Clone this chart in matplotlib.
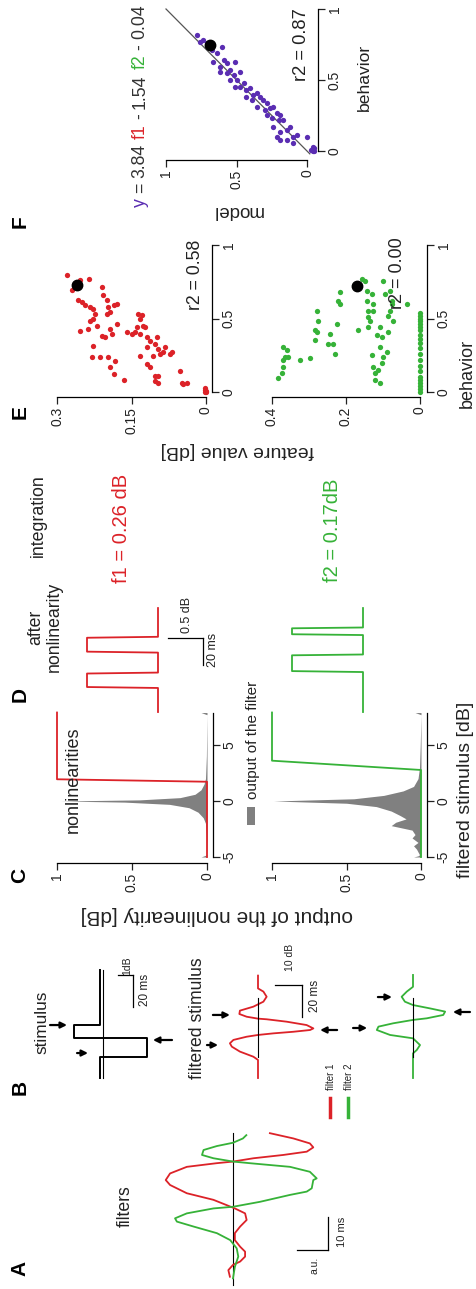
import matplotlib
matplotlib.use('Agg')
import matplotlib.pyplot as plt
from matplotlib.lines import Line2D
from matplotlib.patches import Rectangle

plt.rcParams['font.family'] = ['Liberation Sans', 'DejaVu Sans']

W, H = 476, 1289
fig = plt.figure(figsize=(W / 100, H / 100), dpi=100)

RED = '#dc2228'
GREEN = '#36b238'
PURPLE = '#5a2db2'
GREY = '#808080'

# ---------------- data ----------------
# Panel A: filters (time ms, value a.u.)
filt1_t = [1.9, 3.9, 5.5, 6.5, 8.0, 9.5, 11.0, 13.0, 15.1, 17.1, 19.1, 21.1, 22.6, 25.2, 27.2,
           29.7, 31.2, 33.2, 35.2, 36.3, 36.8, 37.8, 38.8, 39.8, 41.1, 42.3, 43.8, 45.4]
filt1_v = [0.1, 0.15, 0.0, -0.23, -0.39, -0.39, -0.23, -0.06, -0.06, -0.23, -0.44, -0.39, -0.06, 0.63, 1.49,
           2.03, 2.17, 2.03, 1.49, 0.53, 0.0, -0.66, -1.62, -2.38, -2.59, -2.48, -1.95, -1.19]
filt2_t = [1.4, 4.9, 8.0, 10.5, 13.0, 15.1, 17.1, 18.6, 19.6, 21.1, 22.6, 23.1, 24.6, 26.7, 27.7,
           28.7, 31.2, 31.7, 33.7, 35.2, 36.3, 36.8, 37.8, 38.8, 40.3, 41.5, 42.5, 43.8, 44.8]
filt2_v = [0.0, -0.06, -0.17, -0.12, 0.09, 0.52, 1.27, 1.81, 1.87, 1.49, 0.63, 0.0, -0.87, -1.84, -2.38,
           -2.54, -2.59, -2.70, -2.48, -1.84, -0.55, 0.0, 0.63, 1.0, 0.95, 0.52, 0.0, -0.32, -0.43]
filt_zero_t = [-0.5, 45.5]

# Panel B: stimulus (time ms, dB)
stim_t = [0.0, 13.1, 13.1, 25.0, 25.0, 33.1, 33.1, 67.5]
stim_v = [0.2, 0.2, -2.93, -2.93, 1.93, 1.93, 0.2, 0.2]
stim_zero_t = [0.0, 67.5]
# filtered stimulus (time ms, dB)
fs1_t = [0.0, 11.3, 13.3, 16.5, 19.6, 21.7, 23.8, 25.8, 26.9, 27.9, 28.9, 30.0, 31.0, 33.1, 35.2,
         36.7, 37.1, 38.3, 40.0, 42.1, 44.6, 47.7, 50.8, 54.0, 56.0, 64.0]
fs1_v = [0.0, 0.0, 1.7, 6.7, 9.7, 10.4, 9.1, 4.2, 0.0, -5.7, -13.1, -19.3, -20.5, -18.0, -10.6,
         -3.2, 0.0, 4.2, 6.9, 6.7, 1.7, -2.0, -3.2, -2.0, 0.0, 0.0]
fs2_t = [0.0, 15.4, 17.5, 20.6, 24.8, 26.9, 30.0, 32.1, 34.2, 36.3, 37.3, 39.4, 41.5, 43.5, 45.6,
         47.7, 50.8, 54.0, 57.0, 64.4]
fs2_v = [0.0, 0.0, -1.4, -2.6, 0.0, 8.5, 13.4, 12.8, 7.3, 0.0, -5.1, -11.2, -11.9, -6.3, 0.0,
         3.0, 4.2, 2.3, 0.0, 0.0]
fs_zero_t = [13.0, 50.0]
# arrows: (time, tip value, tail value)
stim_arrows = [(15.6, 1.0, 1.73), (33.1, 2.4, 3.53), (23.75, -3.33, -4.6)]
fs1_arrows = [(20.6, 14.8, 18.9), (39.4, 10.4, 16.7), (30.0, -23.0, -29.3)]
fs2_arrows = [(31.25, 17.0, 22.2), (50.6, 7.8, 13.0), (41.25, -14.8, -21.1)]

# Panel C: nonlinearities (filtered stimulus dB -> output)
nl1_x = [-5.0, 1.72, 1.94, 7.9]
nl1_y = [0.0, 0.0, 1.0, 1.0]
nl2_x = [-5.0, 2.77, 3.6, 7.9]
nl2_y = [0.0, 0.0, 1.0, 1.0]
hist1_x = [-5.0, -4.9, -4.8, -3.0, -2.0, -1.5, -1.0, -0.6, -0.3, -0.1, 0.0, 0.1, 0.3, 0.6, 1.0, 1.5, 2.0, 4.0, 7.7, 7.8, 7.9]
hist1_y = [0.04, 0.02, 0.0, 0.004, 0.01, 0.025, 0.06, 0.12, 0.25, 0.55, 0.98, 0.45, 0.18, 0.08, 0.04, 0.02, 0.01, 0.004, 0.0, 0.02, 0.04]
hist2_x = [-5.0, -4.9, -4.8, -4.3, -4.0, -3.7, -3.3, -3.0, -2.6, -2.2, -1.9, -1.6, -1.3, -0.9, -0.5, -0.2,
           0.0, 0.2, 0.5, 0.9, 1.3, 2.0, 3.0, 5.0, 7.7, 7.8, 7.9]
hist2_y = [0.05, 0.02, 0.01, 0.03, 0.05, 0.02, 0.06, 0.04, 0.06, 0.2, 0.17, 0.1, 0.14, 0.2, 0.3, 0.5,
           0.99, 0.45, 0.25, 0.12, 0.05, 0.02, 0.01, 0.005, 0.0, 0.02, 0.04]

# Panel D: after nonlinearity (time ms, output)
an1_t = [0.0, 17.8, 18.5, 28.5, 29.2, 44.0, 44.7, 55.0, 55.7, 77.0]
an1_v = [0, 0, 1, 1, 0, 0, 1, 1, 0, 0]
an2_t = [0.0, 29.6, 30.3, 42.0, 42.6, 57.0, 57.6, 62.0, 62.6, 77.0]
an2_v = [0, 0, 1, 1, 0, 0, 1, 1, 0, 0]

# Panel E: feature values vs behavior
e1_feat = [0.280, 0.270, 0.254, 0.235, 0.257, 0.250, 0.243, 0.233, 0.227, 0.223, 0.227, 0.210, 0.207,
           0.200, 0.197, 0.193, 0.186, 0.180, 0.200, 0.254, 0.237, 0.233, 0.220, 0.210, 0.203, 0.193,
           0.190, 0.180, 0.227, 0.213, 0.197, 0.183, 0.193, 0.186, 0.166, 0.230, 0.160, 0.150, 0.143,
           0.139, 0.133, 0.136, 0.129, 0.126, 0.123, 0.133, 0.119, 0.119, 0.113, 0.103, 0.099, 0.096,
           0.106, 0.093, 0.086, 0.082, 0.072, 0.133, 0.119, 0.113, 0.103, 0.103, 0.096, 0.096, 0.069,
           0.052, 0.049, 0.039, 0.046, 0.002, 0.002, 0.0, 0.003, 0.001]
e1_beh = [0.795, 0.692, 0.760, 0.767, 0.623, 0.612, 0.589, 0.578, 0.566, 0.532, 0.498, 0.714, 0.658,
          0.623, 0.578, 0.543, 0.589, 0.600, 0.532, 0.418, 0.429, 0.486, 0.452, 0.384, 0.372, 0.429,
          0.395, 0.463, 0.315, 0.235, 0.235, 0.212, 0.167, 0.121, 0.085, 0.235, 0.406, 0.395, 0.406,
          0.441, 0.498, 0.532, 0.521, 0.452, 0.441, 0.395, 0.372, 0.304, 0.349, 0.326, 0.372, 0.292,
          0.247, 0.258, 0.269, 0.304, 0.258, 0.247, 0.190, 0.167, 0.110, 0.075, 0.064, 0.110, 0.269,
          0.144, 0.064, 0.064, 0.053, 0.030, 0.0, 0.0, 0.015, 0.01]
e1_black = (0.26, 0.73)

e2_feat = [0.383, 0.374, 0.369, 0.371, 0.365, 0.360, 0.356, 0.369, 0.324, 0.297, 0.284, 0.284, 0.279,
           0.275, 0.279, 0.243, 0.248, 0.234, 0.230, 0.225, 0.216, 0.221, 0.216, 0.167, 0.167, 0.158,
           0.149, 0.144, 0.144, 0.140, 0.140, 0.135, 0.140, 0.131, 0.126, 0.126, 0.117, 0.131, 0.126,
           0.122, 0.113, 0.108, 0.122, 0.104, 0.099, 0.108, 0.090, 0.086, 0.086, 0.081, 0.077, 0.081,
           0.099, 0.077, 0.072, 0.108, 0.104, 0.095, 0.036,
           0, 0, 0, 0, 0, 0, 0, 0, 0, 0, 0, 0, 0, 0, 0, 0, 0, 0, 0, 0, 0]
e2_beh = [0.093, 0.126, 0.171, 0.216, 0.239, 0.284, 0.239, 0.306, 0.216, 0.228, 0.419, 0.351, 0.554,
          0.486, 0.408, 0.396, 0.329, 0.329, 0.261, 0.464, 0.599, 0.622, 0.678, 0.419, 0.723, 0.768,
          0.757, 0.689, 0.622, 0.554, 0.509, 0.486, 0.441, 0.667, 0.599, 0.554, 0.385, 0.250, 0.171,
          0.126, 0.149, 0.059, 0.081, 0.194, 0.239, 0.306, 0.273, 0.408, 0.520, 0.554, 0.622, 0.689,
          0.757, 0.599, 0.486, 0.441, 0.374, 0.667, 0.599,
          0.0, 0.02, 0.04, 0.06, 0.08, 0.10, 0.14, 0.18, 0.22, 0.26, 0.30, 0.33, 0.36, 0.39, 0.42,
          0.44, 0.46, 0.48, 0.50, 0.52, 0.54]
e2_black = (0.17, 0.72)

# Panel F: model vs behavior
f_model = [0.78, 0.76, 0.735, 0.71, 0.675, 0.64, 0.605, 0.665, 0.62, 0.59, 0.57, 0.545, 0.51, 0.62,
           0.57, 0.52, 0.50, 0.475, 0.545, 0.51, 0.475, 0.45, 0.43, 0.405, 0.38, 0.355, 0.335, 0.43,
           0.39, 0.31, 0.285, 0.355, 0.30, 0.26, 0.24, 0.215, 0.19, 0.285, 0.25, 0.20, 0.17, 0.24,
           0.19, 0.145, 0.12, 0.215, 0.19, 0.145, 0.10, 0.07, 0.10, 0.0,
           -0.04, -0.05, -0.03, -0.04, -0.05]
f_beh = [0.817, 0.770, 0.782, 0.758, 0.711, 0.688, 0.735, 0.629, 0.594, 0.641, 0.618, 0.570, 0.629,
         0.558, 0.547, 0.535, 0.5, 0.558, 0.5, 0.453, 0.453, 0.477, 0.430, 0.442, 0.394, 0.406, 0.382,
         0.382, 0.359, 0.359, 0.336, 0.312, 0.289, 0.301, 0.312, 0.265, 0.254, 0.254, 0.230, 0.218,
         0.218, 0.171, 0.136, 0.148, 0.171, 0.101, 0.077, 0.077, 0.101, 0.113, 0.054, 0.101,
         0.0, 0.02, 0.01, 0.03, 0.0]
f_black = (0.69, 0.746)
f_fit_model = [-0.02, 1.0]
f_fit_beh = [-0.02, 1.0]


# ---------------- helpers ----------------
def px_axes(box, xa, ya):
    l, r, t, b = box
    ax = fig.add_axes([l / W, 1 - b / H, (r - l) / W, (b - t) / H])
    (p1, v1), (p2, v2) = xa
    fx = lambda p: v1 + (p - p1) * (v2 - v1) / (p2 - p1)
    ax.set_xlim(fx(l), fx(r))
    (q1, w1), (q2, w2) = ya
    fy = lambda q: w1 + (q - q1) * (w2 - w1) / (q2 - q1)
    ax.set_ylim(fy(b), fy(t))
    ax.patch.set_alpha(0)
    return ax


def style(ax, xt, xl, yt, yl, ybounds, lsize=10):
    ax.spines['top'].set_visible(False)
    ax.spines['left'].set_visible(False)
    ax.spines['bottom'].set_bounds(min(xt), max(xt))
    ax.spines['right'].set_bounds(*ybounds)
    for s in ('bottom', 'right'):
        ax.spines[s].set_linewidth(0.9)
    ax.yaxis.tick_right()
    ax.set_xticks(xt, xl)
    ax.set_yticks(yt, yl)
    ax.tick_params(axis='both', direction='out', length=5, width=0.9, labelsize=lsize,
                   labelrotation=90, pad=2, colors='#222222')
    for lab in ax.get_yticklabels():
        lab.set_va('center')


def T(x, y, s, size=12, rot=90, color='#222222', **kw):
    return fig.text(x / W, 1 - y / H, s, rotation=rot, ha='center', va='center',
                    fontsize=size, color=color, **kw)


def arrows(ax, lst):
    for t, tip, tail in lst:
        ax.annotate('', xy=(tip, t), xytext=(tail, t),
                    arrowprops=dict(arrowstyle='-|>', color='k', lw=1.6, mutation_scale=9,
                                    shrinkA=0, shrinkB=0), annotation_clip=False)


# ---------------- Panel F ----------------
axF = px_axes((158, 318, 0, 160), ((307, 0), (166, 1)), ((151, 0), (9, 1)))
axF.plot(f_fit_model, f_fit_beh, color='#555555', lw=0.9, zorder=1)
axF.plot(f_model, f_beh, 'o', ms=3.8, color=PURPLE, mec='none', zorder=2)
axF.plot(*f_black, 'o', ms=7.5, color='k', zorder=3)
style(axF, [0, 0.5, 1], ['0', '0.5', '1'], [0, 0.5, 1], ['0', '0.5', '1'], (0, 1))

# ---------------- Panel E ----------------
axE1 = px_axes((50, 212, 236, 397), ((206, 0), (57, 0.3)), ((392, 0), (245, 1)))
axE1.plot(e1_feat, e1_beh, 'o', ms=3.8, color=RED, mec='none', clip_on=False)
axE1.plot(*e1_black, 'o', ms=7.5, color='k')
style(axE1, [0, 0.15, 0.3], ['0', '0.15', '0.3'], [0, 0.5, 1], ['0', '0.5', '1'], (0, 1))

axE2 = px_axes((265, 427, 236, 397), ((420, 0), (272, 0.4)), ((392, 0), (245, 1)))
axE2.plot(e2_feat, e2_beh, 'o', ms=3.8, color=GREEN, mec='none', clip_on=False)
axE2.plot(*e2_black, 'o', ms=7.5, color='k')
style(axE2, [0, 0.2, 0.4], ['0', '0.2', '0.4'], [0, 0.5, 1], ['0', '0.5', '1'], (0, 1))

# ---------------- Panel C ----------------
axC1 = px_axes((50, 213, 705, 863), ((207, 0), (57, 1)), ((801, 0), (745, 5)))
axC1.fill_betweenx(hist1_x, 0, hist1_y, color=GREY, lw=0)
axC1.plot(nl1_y, nl1_x, color=RED, lw=1.3)
style(axC1, [0, 0.5, 1], ['0', '0.5', '1'], [-5, 0, 5], ['-5', '0', '5'], (-5, 7.9))

axC2 = px_axes((265, 427, 705, 863), ((421, 0), (272, 1)), ((801, 0), (745, 5)))
axC2.fill_betweenx(hist2_x, 0, hist2_y, color=GREY, lw=0)
axC2.plot(nl2_y, nl2_x, color=GREEN, lw=1.3)
style(axC2, [0, 0.5, 1], ['0', '0.5', '1'], [-5, 0, 5], ['-5', '0', '5'], (-5, 7.9))

# ---------------- Panel D ----------------
axD1 = px_axes((80, 230, 590, 716), ((158, 0), (87, 1)), ((712, 0), (685, 20)))
axD1.plot(an1_v, an1_t, color=RED, lw=1.3)
axD1.plot([-0.14, -0.63], [54.8, 54.8], color='k', lw=0.9)
axD1.plot([-0.63, -0.63], [54.8, 34.8], color='k', lw=0.9)
axD1.axis('off')
axD2 = px_axes((285, 420, 590, 716), ((363, 0), (292, 1)), ((712, 0), (685, 20)))
axD2.plot(an2_v, an2_t, color=GREEN, lw=1.3)
axD2.axis('off')

# ---------------- Panel B ----------------
axBs = px_axes((40, 185, 955, 1085), ((103, 0), (88, 1)), ((1078, 0), (1046, 20)))
axBs.plot([0, 0], stim_zero_t, color='k', lw=0.8)
axBs.plot(stim_v, stim_t, color='k', lw=1.4)
axBs.plot([-1, -2], [64.4, 64.4], color='k', lw=0.9)
axBs.plot([-2, -2], [64.4, 44.4], color='k', lw=0.9)
arrows(axBs, stim_arrows)
axBs.axis('off')

axBr = px_axes((195, 345, 930, 1085), ((258, 0), (231, 10)), ((1078, 0), (1046, 20)))
axBr.plot(fs1_v, fs1_t, color=RED, lw=1.3)
axBr.plot([0, 0], fs_zero_t, color='k', lw=0.8)
axBr.plot([-6.3, -16.3], [58, 58], color='k', lw=0.9)
axBr.plot([-16.3, -16.3], [58, 38], color='k', lw=0.9)
arrows(axBr, fs1_arrows)
axBr.axis('off')

axBg = px_axes((345, 476, 955, 1085), ((413, 0), (386, 10)), ((1078, 0), (1046, 20)))
axBg.plot(fs2_v, fs2_t, color=GREEN, lw=1.3)
axBg.plot([0, 0], fs_zero_t, color='k', lw=0.8)
arrows(axBg, fs2_arrows)
axBg.axis('off')

# legend for filters
fig.add_artist(Line2D([330 / W, 330 / W], [1 - 1098 / H, 1 - 1117 / H], color=RED, lw=2.5))
fig.add_artist(Line2D([348 / W, 348 / W], [1 - 1098 / H, 1 - 1117 / H], color=GREEN, lw=2.5))
T(331, 1077, 'filter 1', size=7)
T(349, 1077, 'filter 2', size=7)

# ---------------- Panel A ----------------
axA = px_axes((150, 360, 1120, 1289), ((233, 0), (202, 1)), ((1283, 0), (1250, 10)))
axA.plot([0, 0], filt_zero_t, color='k', lw=0.8)
axA.plot(filt1_v, filt1_t, color=RED, lw=1.3)
axA.plot(filt2_v, filt2_t, color=GREEN, lw=1.3)
axA.plot([-2.06, -3.06], [10, 10], color='k', lw=0.9)
axA.plot([-3.06, -3.06], [10, 20], color='k', lw=0.9)
axA.axis('off')

# ---------------- texts ----------------
for lab, y in zip('FEDCBA', [222, 412, 695, 875, 1087, 1268]):
    T(20, y, lab, size=15, weight='bold', color='k')

T(364, 77, 'behavior', size=12.6)
T(467, 373, 'behavior', size=13)
T(237, 210, 'model', size=13.5, rot=180)
T(237, 450, 'feature value [dB]', size=14, rot=180)
T(217, 915, 'output of the nonlinearity [dB]', size=15, rot=180)
T(466, 790, 'filtered stimulus [dB]', size=14)
T(302, 45, 'r2 = 0.87', size=13.2)
T(195, 275, 'r2 = 0.58', size=12.7)
T(398, 273, 'r2 = 0.00', size=13)
T(122, 528, 'f1 = 0.26 dB', size=14.5, color=RED)
T(333, 530, 'f2 = 0.17dB', size=14.5, color=GREEN)
T(38, 516, 'integration', size=12.8)
fig.text(45 / W, 1 - 627 / H, 'after\nnonlinearity', rotation=90, ha='center', va='center',
         fontsize=12.7, color='#222222', multialignment='center', linespacing=1.05)
T(73, 780, 'nonlinearities', size=13)
T(253, 740, 'output of the filter', size=11)
fig.add_artist(Rectangle((247 / W, 1 - 825 / H), 8 / W, 18 / H, color=GREY, lw=0))
T(42, 1022, 'stimulus', size=12.4)
T(197, 1018, 'filtered stimulus', size=12.7)
T(125, 1206, 'filters', size=12.7)
T(187, 615, '0.5 dB', size=9)
T(213, 650, '20 ms', size=9)
T(127, 966, '1dB', size=7.5)
T(145, 990, '20 ms', size=8.5)
T(290, 957, '10 dB', size=7.5)
T(315, 996, '20 ms', size=8.5)
T(314, 1265, 'a.u.', size=7.5)
T(342, 1232, '10 ms', size=8)

# equation with coloured parts, reading bottom to top
renderer = fig.canvas.get_renderer()
eq_parts = ['y', '=', '3.84', 'f1', '-', '1.54', 'f2', '-', '0.04']
eq_cols = [PURPLE, '#333333', '#333333', RED, '#333333', '#333333', GREEN, '#333333', '#333333']
eq_size = 12.7
space = 0.278 * eq_size * 100 / 72
ypos = 207.0
for s, c in zip(eq_parts, eq_cols):
    t = fig.text(140 / W, 1 - ypos / H, s, rotation=90, rotation_mode='anchor', ha='left',
                 va='center', fontsize=eq_size, color=c)
    ext = t.get_window_extent(renderer)
    ypos -= ext.height + space

fig.savefig('out.png', dpi=100)
